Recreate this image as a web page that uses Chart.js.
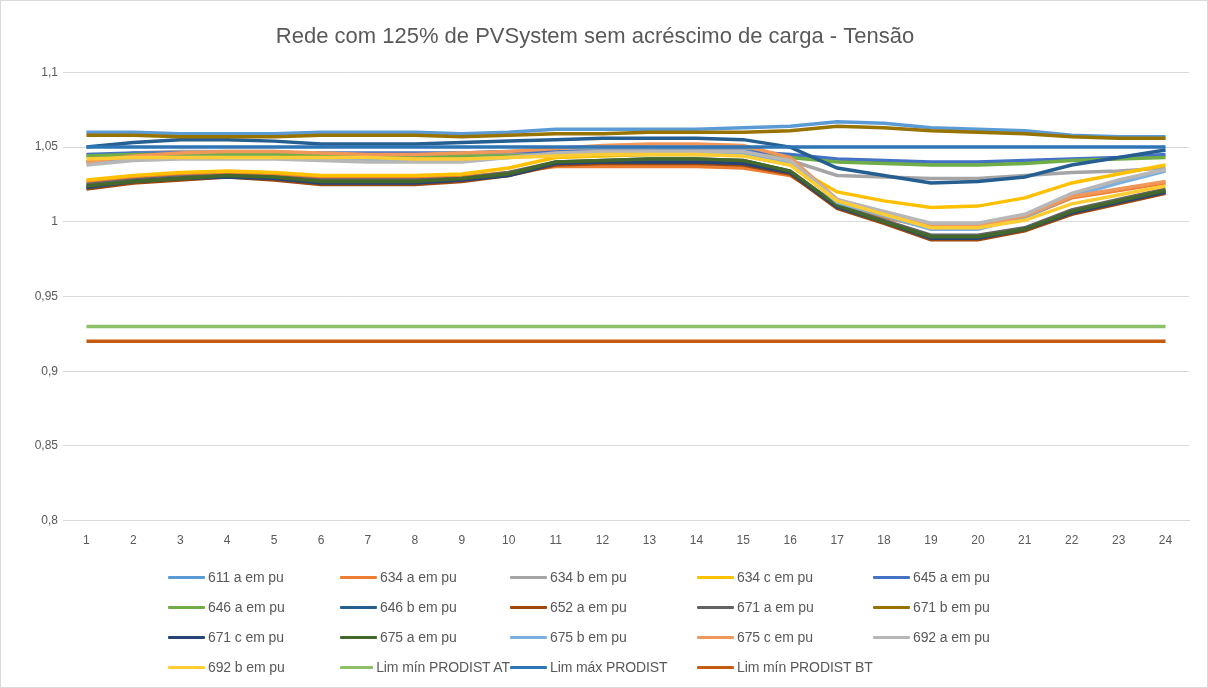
<!DOCTYPE html>
<html>
<head>
<meta charset="utf-8">
<script src="https://cdn.jsdelivr.net/npm/chart.js@4.4.1/dist/chart.umd.min.js"></script>
<style>
  body { margin: 0; background: #fff; }
  #box { position: relative; width: 1206px; height: 686px; border: 1px solid #d9d9d9; font-family: "Liberation Sans", Arial, sans-serif; }
  #grafic { position: absolute; left: 0; top: 0; }
  #legenda { position: absolute; left: 167px; top: 561px; display: grid; grid-template-columns: 172px 170px 187px 176px 176px; grid-auto-rows: 30px; }
  .item { display: flex; align-items: center; color: #595959; font-size: 14px; white-space: nowrap; letter-spacing: -0.1px; }
  .linha { width: 37px; height: 3px; margin-right: 3px; border-radius: 1px; }
</style>
</head>
<body>
<div id="box">
  <canvas id="grafic" width="1206" height="686"></canvas>
  <div id="legenda"></div>
</div>
<script>
const horas = ["1","2","3","4","5","6","7","8","9","10","11","12","13","14","15","16","17","18","19","20","21","22","23","24"];

const nomes = ["611 a em pu","634 a em pu","634 b em pu","634 c em pu","645 a em pu",
  "646 a em pu","646 b em pu","652 a em pu","671 a em pu","671 b em pu",
  "671 c em pu","675 a em pu","675 b em pu","675 c em pu","692 a em pu",
  "692 b em pu","Lim mín PRODIST AT","Lim máx PRODIST","Lim mín PRODIST BT"];

const v611a = [1.060,1.060,1.059,1.059,1.059,1.060,1.060,1.060,1.059,1.060,1.062,1.062,1.062,1.062,1.063,1.064,1.067,1.066,1.063,1.062,1.061,1.058,1.057,1.057];
const v634a = [1.027,1.030,1.032,1.033,1.032,1.029,1.029,1.029,1.030,1.033,1.037,1.037,1.037,1.037,1.036,1.031,1.012,1.003,0.996,0.996,1.003,1.016,1.021,1.026];
const v634b = [1.040,1.046,1.047,1.047,1.047,1.045,1.044,1.044,1.044,1.045,1.047,1.048,1.048,1.049,1.049,1.041,1.031,1.030,1.029,1.029,1.031,1.033,1.034,1.036];
const v634c = [1.028,1.031,1.033,1.034,1.033,1.031,1.031,1.031,1.032,1.036,1.043,1.044,1.045,1.045,1.045,1.038,1.020,1.014,1.0095,1.0105,1.016,1.026,1.032,1.038];
const v645a = [1.045,1.046,1.046,1.046,1.046,1.046,1.046,1.046,1.046,1.047,1.047,1.047,1.047,1.047,1.047,1.045,1.042,1.041,1.040,1.040,1.041,1.042,1.043,1.045];
const v646a = [1.044,1.045,1.045,1.045,1.045,1.044,1.044,1.044,1.044,1.044,1.045,1.045,1.045,1.045,1.045,1.043,1.040,1.039,1.038,1.038,1.039,1.041,1.042,1.043];
const v646b = [1.050,1.053,1.055,1.055,1.054,1.052,1.052,1.052,1.053,1.054,1.055,1.056,1.056,1.056,1.055,1.050,1.036,1.031,1.026,1.027,1.030,1.038,1.043,1.048];
const v652a = [1.022,1.026,1.028,1.030,1.028,1.025,1.025,1.025,1.027,1.031,1.038,1.039,1.039,1.039,1.038,1.032,1.009,0.999,0.988,0.988,0.994,1.005,1.012,1.019];
const v671a = [1.025,1.028,1.030,1.031,1.030,1.028,1.028,1.028,1.029,1.033,1.040,1.041,1.042,1.042,1.041,1.034,1.011,1.001,0.991,0.991,0.996,1.008,1.015,1.022];
const v671b = [1.058,1.058,1.057,1.057,1.057,1.058,1.058,1.058,1.057,1.058,1.059,1.059,1.060,1.060,1.060,1.061,1.064,1.063,1.061,1.060,1.059,1.057,1.056,1.056];
const v671c = [1.023,1.027,1.029,1.030,1.029,1.026,1.026,1.026,1.028,1.031,1.039,1.040,1.040,1.040,1.039,1.033,1.010,1.000,0.989,0.989,0.995,1.006,1.013,1.020];
const v675a = [1.024,1.027,1.029,1.031,1.030,1.027,1.027,1.027,1.029,1.032,1.040,1.041,1.042,1.042,1.041,1.034,1.011,1.000,0.990,0.990,0.995,1.007,1.014,1.021];
const v675b = [1.040,1.042,1.043,1.043,1.043,1.042,1.041,1.041,1.042,1.043,1.045,1.046,1.046,1.046,1.046,1.040,1.013,1.004,0.995,0.995,1.003,1.017,1.026,1.034];
const v675c = [1.040,1.044,1.046,1.047,1.047,1.046,1.045,1.045,1.046,1.047,1.049,1.051,1.052,1.052,1.051,1.043,1.015,1.005,0.997,0.997,1.004,1.017,1.022,1.027];
const v692a = [1.038,1.041,1.042,1.042,1.042,1.041,1.040,1.040,1.040,1.043,1.046,1.047,1.047,1.047,1.047,1.041,1.015,1.007,0.999,0.999,1.005,1.019,1.028,1.035];
const v692b = [1.042,1.043,1.043,1.043,1.043,1.043,1.043,1.042,1.042,1.043,1.044,1.045,1.045,1.045,1.044,1.038,1.014,1.005,0.996,0.996,1.001,1.012,1.018,1.024];
const limMinAT = [0.93,0.93,0.93,0.93,0.93,0.93,0.93,0.93,0.93,0.93,0.93,0.93,0.93,0.93,0.93,0.93,0.93,0.93,0.93,0.93,0.93,0.93,0.93,0.93];
const limMax = [1.05,1.05,1.05,1.05,1.05,1.05,1.05,1.05,1.05,1.05,1.05,1.05,1.05,1.05,1.05,1.05,1.05,1.05,1.05,1.05,1.05,1.05,1.05,1.05];
const limMinBT = [0.92,0.92,0.92,0.92,0.92,0.92,0.92,0.92,0.92,0.92,0.92,0.92,0.92,0.92,0.92,0.92,0.92,0.92,0.92,0.92,0.92,0.92,0.92,0.92];

const series = [v611a, v634a, v634b, v634c, v645a, v646a, v646b, v652a, v671a, v671b,
  v671c, v675a, v675b, v675c, v692a, v692b, limMinAT, limMax, limMinBT];

const cores = ["#5B9BD5","#ED7D31","#A5A5A5","#FFC000","#4472C4","#70AD47","#255E91","#9E480E","#636363","#997300",
  "#264478","#43682B","#7CAFDD","#F1975A","#B7B7B7","#FFCD33","#8CC168","#2E75B6","#C55A11"];

window.onload = function () {
  let datasets = [];
  for (let i = 0; i < series.length; i++) {
    datasets.push({
      label: nomes[i],
      data: series[i],
      borderColor: cores[i],
      backgroundColor: cores[i],
      borderWidth: 3.5,
      pointRadius: 0,
      tension: 0,
      order: series.length - i   // excel desenha a última série por cima
    });
  }

  let ctx = document.getElementById("grafic").getContext("2d");
  let chart = new Chart(ctx, {
    type: "line",
    data: { labels: horas, datasets: datasets },
    options: {
      responsive: false,
      animation: false,
      layout: { padding: { left: 0, right: 18, bottom: 126 } },
      plugins: {
        legend: { display: false },
        tooltip: { enabled: false },
        title: {
          display: true,
          text: "Rede com 125% de PVSystem sem acréscimo de carga - Tensão",
          color: "#595959",
          font: { family: "Liberation Sans", size: 22, weight: "normal" },
          padding: { top: 23, bottom: 22 }
        }
      },
      scales: {
        x: {
          offset: true,
          grid: { display: false, drawTicks: false },
          border: { color: "#d9d9d9" },
          ticks: { color: "#595959", font: { family: "Liberation Sans", size: 12 }, padding: 13, maxRotation: 0, autoSkip: false }
        },
        y: {
          min: 0.8,
          max: 1.1,
          afterFit: function (scale) { scale.width = 62; },
          grid: { color: "#d9d9d9", drawTicks: false },
          border: { display: false },
          ticks: {
            stepSize: 0.05,
            padding: 5,
            color: "#595959",
            font: { family: "Liberation Sans", size: 12 },
            callback: function (v) { return String(Math.round(v * 100) / 100).replace(".", ","); }
          }
        }
      }
    }
  });

  let legenda = document.getElementById("legenda");
  chart.data.datasets.forEach(ds => {
    let item = document.createElement("div");
    item.setAttribute("class", "item");
    let linha = document.createElement("span");
    linha.setAttribute("class", "linha");
    linha.style.background = ds.borderColor;
    let txt = document.createElement("span");
    txt.innerText = ds.label;
    item.appendChild(linha);
    item.appendChild(txt);
    legenda.appendChild(item);
  });
};
</script>
</body>
</html>
